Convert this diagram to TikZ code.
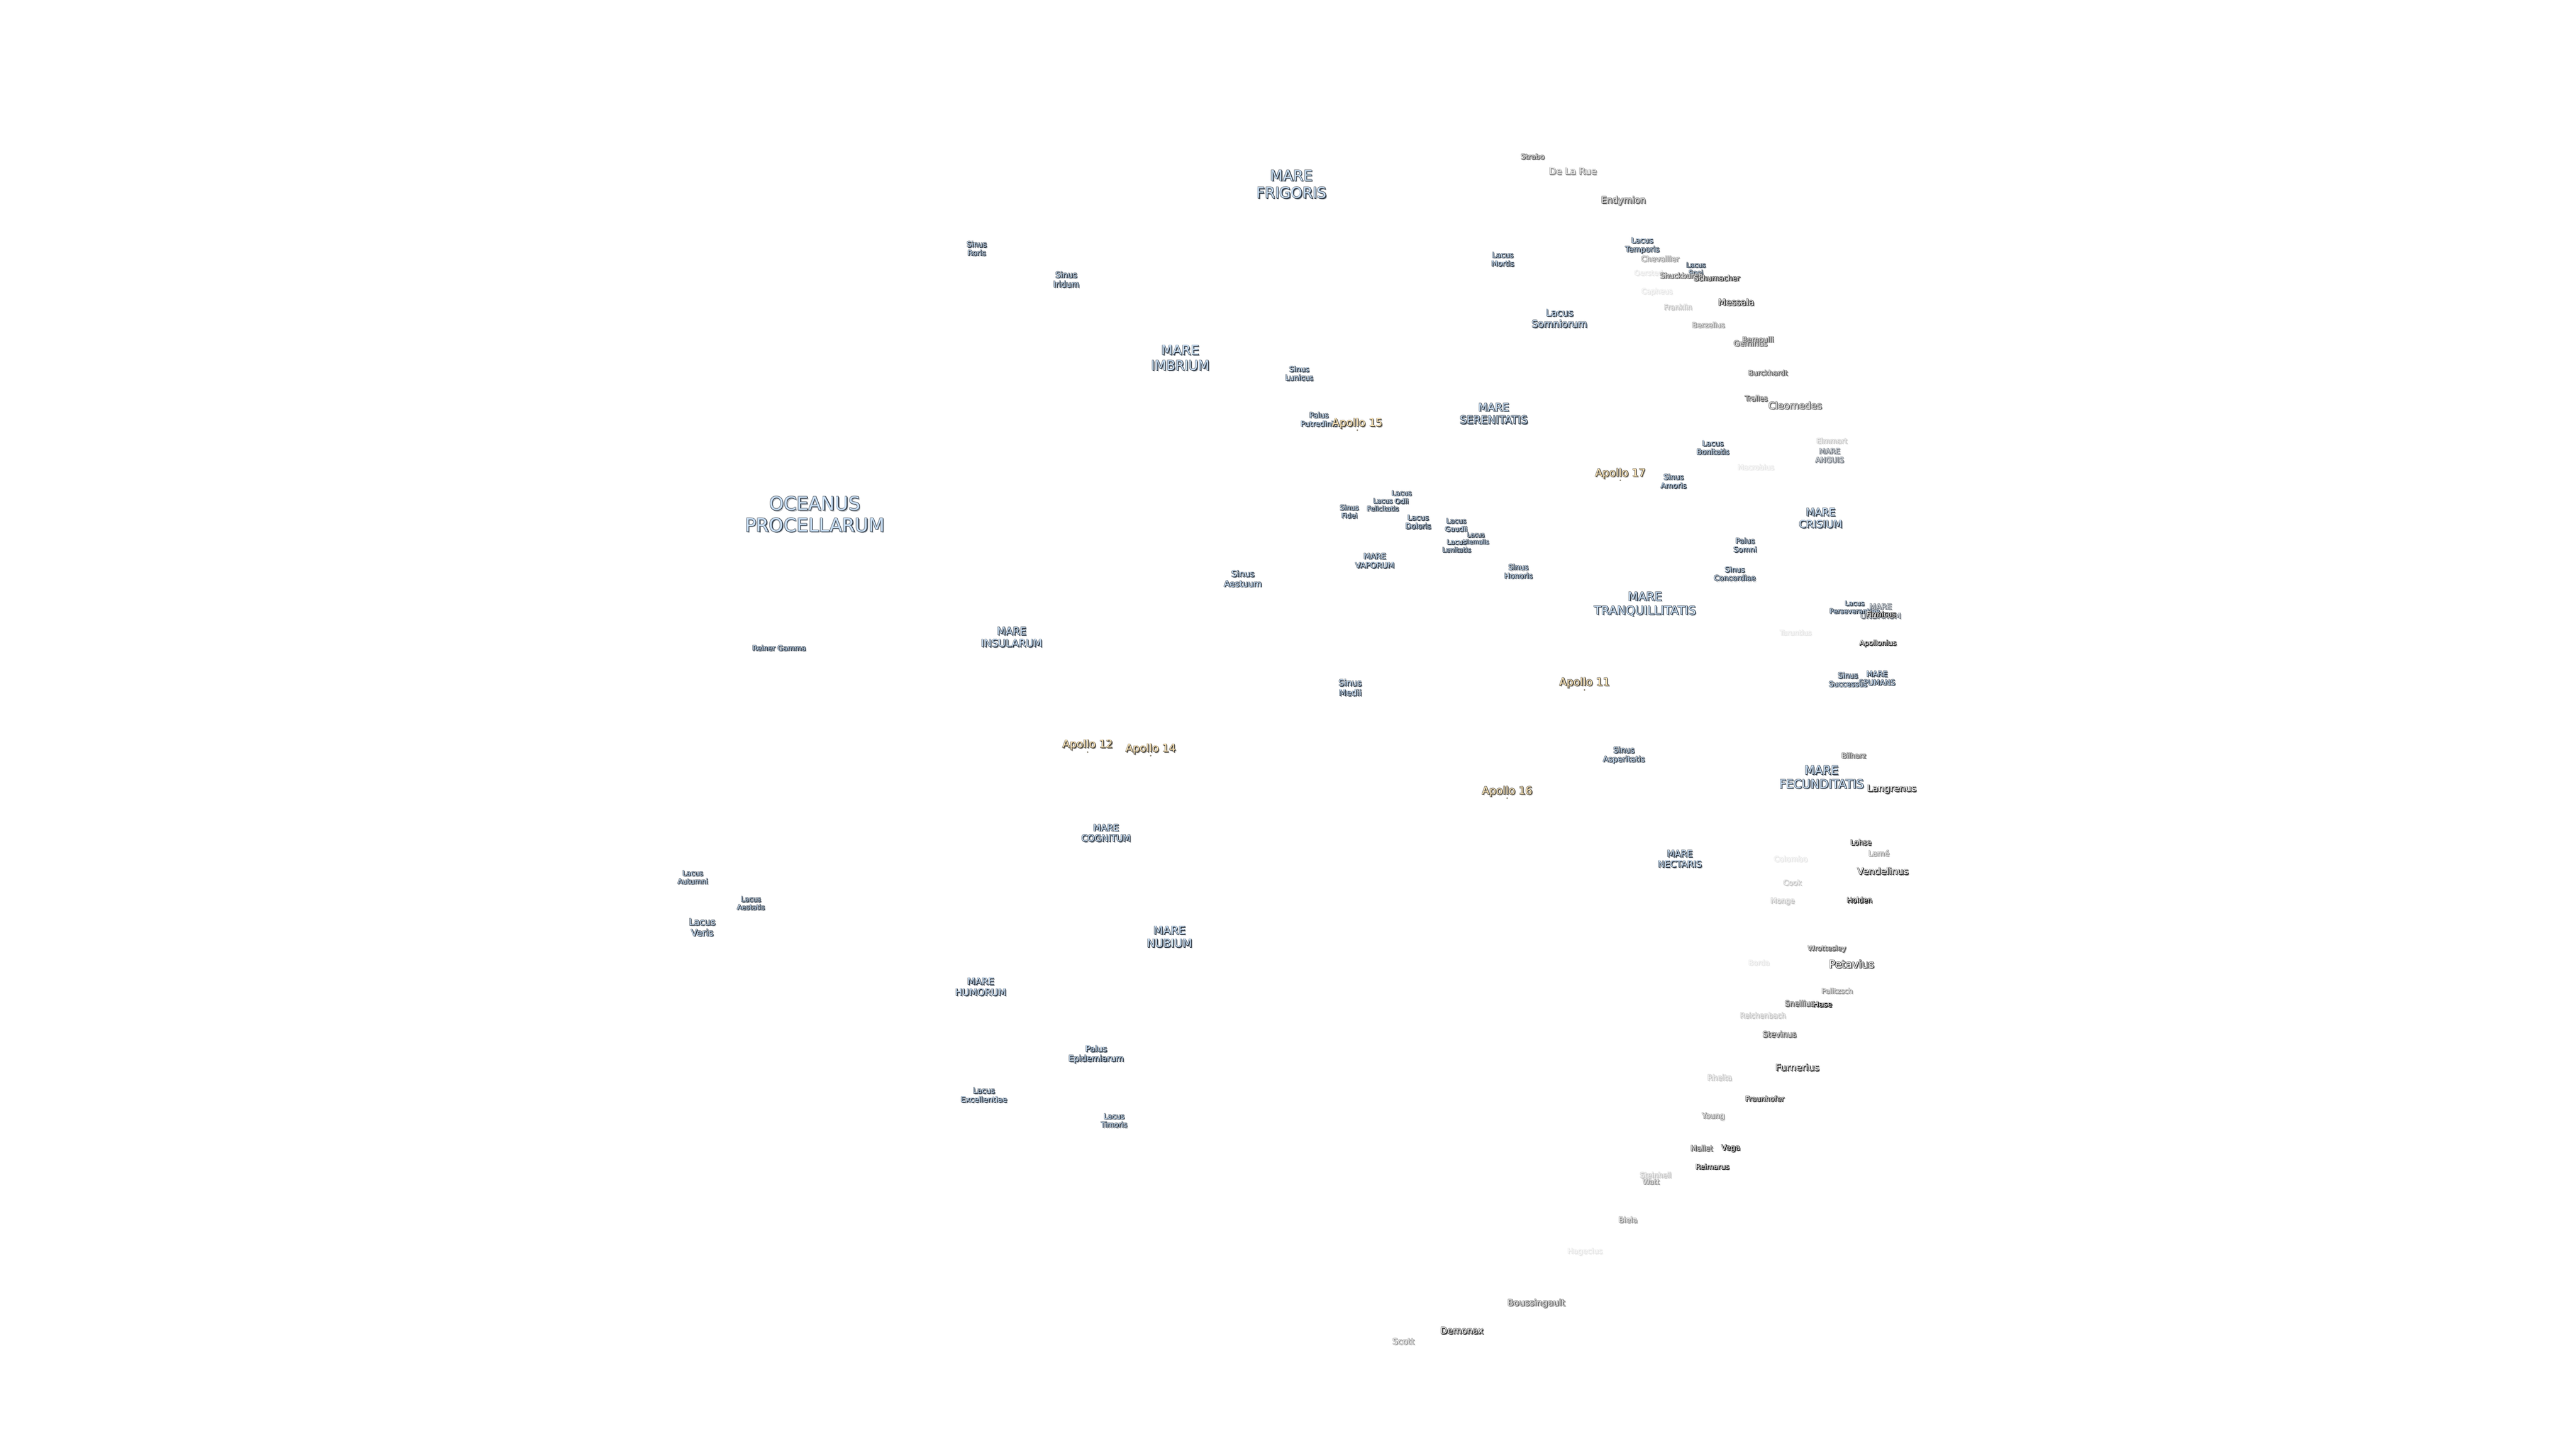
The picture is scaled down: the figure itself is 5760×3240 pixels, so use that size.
\documentclass[tikz,border=0pt]{standalone}
\usepackage{fontspec}
\setmainfont{DejaVu Sans}
\definecolor{marefill}{HTML}{C9DFF5}
\definecolor{marerim}{HTML}{323C48}
\definecolor{dimmarefill}{HTML}{D5DAE0}
\definecolor{dimmarerim}{HTML}{6E747C}
\definecolor{sitefill}{HTML}{FBE3B4}
\definecolor{siterim}{HTML}{4A4740}
\definecolor{craterfullfill}{HTML}{FFFFFF}
\definecolor{craterfullrim}{HTML}{141414}
\definecolor{craterhighfill}{HTML}{F4F4F4}
\definecolor{craterhighrim}{HTML}{333333}
\definecolor{cratermidfill}{HTML}{E6E6E6}
\definecolor{cratermidrim}{HTML}{5E5E5E}
\definecolor{craterlowfill}{HTML}{EDEDED}
\definecolor{craterlowrim}{HTML}{929292}
\definecolor{craterpalefill}{HTML}{F5F5F5}
\definecolor{craterpalerim}{HTML}{C4C4C4}
\definecolor{craterfaintfill}{HTML}{FBFBFB}
\definecolor{craterfaintrim}{HTML}{E6E6E6}
\newcommand{\moonfont}[1]{\pgfmathsetmacro\moonlead{1.164*#1}\fontsize{#1}{\moonlead}\selectfont}
\tikzset{moontext/.style={font=\moonfont{#1},align=center,inner sep=0pt}}
% kind, size, position, name, text
\newcommand{\moonlabel}[5]{%
	\node[moontext=#2,text=#1rim!35!white,shift={(3,3)}] at (#3) {#5};
	\node[moontext=#2,text=#1rim!60!white,shift={(-1,-0.8)}] at (#3) {#5};
	\node[moontext=#2,text=#1rim!60!white,shift={(0.9,-0.8)}] at (#3) {#5};
	\node[moontext=#2,text=#1rim!60!white,shift={(-1,0.9)}] at (#3) {#5};
	\node[moontext=#2,text=#1rim,shift={(1.8,1.8)}] at (#3) {#5};
	\node[moontext=#2,text=#1rim,shift={(1.2,0.5)}] at (#3) {#5};
	\node[moontext=#2,text=#1rim,shift={(0.5,1.2)}] at (#3) {#5};
	\node[moontext=#2,text=#1fill] (#4) at (#3) {#5};
}
\begin{document}
\begin{tikzpicture}[x=1pt,y=-1pt,sitedot/.style={circle,inner sep=0pt,minimum size=3.5pt,fill=siterim!70!sitefill}]
	\useasboundingbox (0,0) rectangle (5760,3240);
	% maria
	\moonlabel{mare}{41.5}{1822,1150}{oceanusProcellarum}{OCEANUS\\PROCELLARUM}
	\moonlabel{mare}{33}{2888,412}{mareFrigoris}{MARE\\FRIGORIS}
	\moonlabel{mare}{29.5}{2639,800}{mareImbrium}{MARE\\IMBRIUM}
	\moonlabel{mare}{24}{3340,925}{mareSerenitatis}{MARE\\SERENITATIS}
	\moonlabel{mare}{26.5}{3678,1351}{mareTranquillitatis}{MARE\\TRANQUILLITATIS}
	\moonlabel{mare}{23}{4071,1159}{mareCrisium}{MARE\\CRISIUM}
	\moonlabel{mare}{26.5}{4073,1738}{mareFecunditatis}{MARE\\FECUNDITATIS}
	\moonlabel{mare}{20}{3756,1921}{mareNectaris}{MARE\\NECTARIS}
	\moonlabel{mare}{17.5}{3074,1254}{mareVaporum}{MARE\\VAPORUM}
	\moonlabel{mare}{23}{2262,1425}{mareInsularum}{MARE\\INSULARUM}
	\moonlabel{mare}{20}{2473,1863}{mareCognitum}{MARE\\COGNITUM}
	\moonlabel{mare}{25}{2615,2095}{mareNubium}{MARE\\NUBIUM}
	\moonlabel{mare}{21}{2193,2207}{mareHumorum}{MARE\\HUMORUM}
	\moonlabel{dimmare}{16.5}{4091,1019}{mareAnguis}{MARE\\ANGUIS}
	\moonlabel{dimmare}{17.5}{4205,1367}{mareUndarum}{MARE\\UNDARUM}
	\moonlabel{mare}{16.5}{4197,1517}{mareSpumans}{MARE\\SPUMANS}
	% lacus, sinus, palus
	\moonlabel{mare}{16.5}{2184,556}{sinusRoris}{Sinus\\Roris}
	\moonlabel{mare}{18}{2384,625}{sinusIridum}{Sinus\\Iridum}
	\moonlabel{mare}{16.5}{2905,835}{sinusLunicus}{Sinus\\Lunicus}
	\moonlabel{mare}{16.5}{2949,938}{palusPutredinis}{Palus\\Putredinis}
	\moonlabel{mare}{16.5}{3360,580}{lacusMortis}{Lacus\\Mortis}
	\moonlabel{mare}{17}{3672,549}{lacusTemporis}{Lacus\\Temporis}
	\moonlabel{mare}{15}{3792,603}{lacusSpei}{Lacus\\Spei}
	\moonlabel{mare}{21.5}{3487,712}{lacusSomniorum}{Lacus\\Somniorum}
	\moonlabel{mare}{16.5}{3830,1001}{lacusBonitatis}{Lacus\\Bonitatis}
	\moonlabel{mare}{16.5}{3742,1076}{sinusAmoris}{Sinus\\Amoris}
	\moonlabel{mare}{16.5}{3902,1219}{palusSomni}{Palus\\Somni}
	\moonlabel{mare}{16.5}{3879,1283}{sinusConcordiae}{Sinus\\Concordiae}
	\moonlabel{mare}{15}{4147,1358}{lacusPerseverantiae}{Lacus\\Perseverantiae}
	\moonlabel{mare}{16.5}{4132,1520}{sinusSuccessus}{Sinus\\Successus}
	\moonlabel{mare}{15.5}{3017,1144}{sinusFidei}{Sinus\\Fidei}
	\moonlabel{mare}{15.5}{3134,1112}{lacusOdii}{Lacus\\Odii}
	\moonlabel{mare}{15}{3092,1129}{lacusFelicitatis}{Lacus\\Felicitatis}
	\moonlabel{mare}{16.5}{3171,1167}{lacusDoloris}{Lacus\\Doloris}
	\moonlabel{mare}{15.5}{3256,1174}{lacusGaudii}{Lacus\\Gaudii}
	\moonlabel{mare}{13.5}{3300,1204}{lacusHiemalis}{Lacus\\Hiemalis}
	\moonlabel{mare}{15}{3257,1221}{lacusLenitatis}{Lacus\\Lenitatis}
	\moonlabel{mare}{16.5}{3395,1278}{sinusHonoris}{Sinus\\Honoris}
	\moonlabel{mare}{19}{2779,1294}{sinusAestuum}{Sinus\\Aestuum}
	\moonlabel{mare}{19}{3019,1538}{sinusMedii}{Sinus\\Medii}
	\moonlabel{mare}{17.5}{3631,1689}{sinusAsperitatis}{Sinus\\Asperitatis}
	\moonlabel{mare}{16}{1742,1449}{reinerGamma}{Reiner Gamma}
	\moonlabel{mare}{16}{1549,1962}{lacusAutumni}{Lacus\\Autumni}
	\moonlabel{mare}{15.5}{1679,2020}{lacusAestatis}{Lacus\\Aestatis}
	\moonlabel{mare}{20.5}{1570,2074}{lacusVeris}{Lacus\\Veris}
	\moonlabel{mare}{18.5}{2451,2358}{palusEpidemiarum}{Palus\\Epidemiarum}
	\moonlabel{mare}{17}{2200,2449}{lacusExcellentiae}{Lacus\\Excellentiae}
	\moonlabel{mare}{16}{2491,2506}{lacusTimoris}{Lacus\\Timoris}
	% craters
	\moonlabel{cratermid}{16}{3427,350}{strabo}{Strabo}
	\moonlabel{craterlow}{21}{3517,383}{deLaRue}{De La Rue}
	\moonlabel{cratermid}{20}{3630,449}{endymion}{Endymion}
	\moonlabel{craterlow}{17}{3712,579}{chevallier}{Chevallier}
	\moonlabel{craterfaint}{16}{3686,610}{oersted}{Oersted}
	\moonlabel{cratermid}{16}{3760,618}{shuckburgh}{Shuckburgh}
	\moonlabel{craterhigh}{16.5}{3839,622}{schumacher}{Schumacher}
	\moonlabel{craterfaint}{16}{3705,653}{capheus}{Capheus}
	\moonlabel{craterpale}{16}{3752,687}{franklin}{Franklin}
	\moonlabel{craterhigh}{20}{3882,676}{messala}{Messala}
	\moonlabel{craterlow}{16}{3820,727}{berzelius}{Berzelius}
	\moonlabel{cratermid}{17}{3914,768}{geminus}{Geminus}
	\moonlabel{cratermid}{16}{3931,759}{bernoulli}{Bernoulli}
	\moonlabel{cratermid}{16}{3953,834}{burckhardt}{Burckhardt}
	\moonlabel{cratermid}{16}{3927,891}{tralles}{Tralles}
	\moonlabel{cratermid}{21.5}{4014,907}{cleomedes}{Cleomedes}
	\moonlabel{craterpale}{16}{4096,986}{elmmart}{Elmmart}
	\moonlabel{craterfaint}{16}{3926,1045}{macrobius}{Macrobius}
	\moonlabel{craterfull}{16}{4206,1373}{firmicus}{Firmicus}
	\moonlabel{craterfaint}{15.5}{4015,1415}{taruntius}{Taruntius}
	\moonlabel{craterhigh}{16}{4199,1439}{apollonius}{Apollonius}
	\moonlabel{cratermid}{16}{4145,1690}{bilharz}{Bilharz}
	\moonlabel{craterhigh}{21}{4230,1765}{langrenus}{Langrenus}
	\moonlabel{craterhigh}{16}{4161,1884}{lohse}{Lohse}
	\moonlabel{craterlow}{17}{4201,1908}{lame}{Lamé}
	\moonlabel{craterfaint}{17}{4004,1921}{colombo}{Colombo}
	\moonlabel{craterhigh}{21}{4210,1948}{vendelinus}{Vendelinus}
	\moonlabel{craterpale}{16.5}{4008,1974}{cook}{Cook}
	\moonlabel{craterpale}{16}{3986,2016}{monge}{Monge}
	\moonlabel{craterfull}{16}{4158,2013}{holden}{Holden}
	\moonlabel{cratermid}{16}{4085,2122}{wrottesley}{Wrottesley}
	\moonlabel{craterhigh}{24}{4140,2156}{petavius}{Petavius}
	\moonlabel{craterfaint}{16}{3933,2153}{borda}{Borda}
	\moonlabel{craterlow}{16}{4108,2216}{palitzsch}{Palitzsch}
	\moonlabel{cratermid}{17}{4024,2244}{snellius}{Snellius}
	\moonlabel{craterfull}{17}{4075,2246}{hase}{Hase}
	\moonlabel{craterpale}{16}{3942,2271}{reichenbach}{Reichenbach}
	\moonlabel{cratermid}{17.5}{3979,2313}{stevinus}{Stevinus}
	\moonlabel{craterhigh}{21}{4019,2387}{furnerius}{Furnerius}
	\moonlabel{craterpale}{17}{3845,2410}{rheita}{Rheita}
	\moonlabel{craterhigh}{16}{3946,2457}{fraunhofer}{Fraunhofer}
	\moonlabel{craterlow}{17}{3831,2497}{young}{Young}
	\moonlabel{cratermid}{16.5}{3805,2568}{mallet}{Mallet}
	\moonlabel{craterfull}{17}{3870,2568}{vega}{Vega}
	\moonlabel{craterhigh}{16}{3829,2609}{reimarus}{Reimarus}
	\moonlabel{craterpale}{16}{3702,2628}{steinheil}{Steinheil}
	\moonlabel{craterlow}{16}{3692,2643}{watt}{Watt}
	\moonlabel{craterlow}{17}{3640,2728}{biela}{Biela}
	\moonlabel{craterfaint}{17}{3544,2799}{hagecius}{Hagecius}
	\moonlabel{cratermid}{20}{3435,2915}{boussingault}{Boussingault}
	\moonlabel{craterhigh}{20}{3269,2976}{demonax}{Demonax}
	\moonlabel{craterlow}{19}{3138,3000}{scott}{Scott}
	% landing sites
	\node[sitedot] (site15) at (3035,962) {};
	\node[sitedot] (site17) at (3623,1074) {};
	\node[sitedot] (site11) at (3543,1543) {};
	\node[sitedot] (site12) at (2432,1682) {};
	\node[sitedot] (site14) at (2573,1690) {};
	\node[sitedot] (site16) at (3370,1785) {};
	\moonlabel{site}{24}{3035,947}{apollo15}{Apollo 15}
	\moonlabel{site}{24}{3623,1059}{apollo17}{Apollo 17}
	\moonlabel{site}{24}{3543,1527}{apollo11}{Apollo 11}
	\moonlabel{site}{24}{2432,1666}{apollo12}{Apollo 12}
	\moonlabel{site}{24}{2573,1675}{apollo14}{Apollo 14}
	\moonlabel{site}{24}{3370,1770}{apollo16}{Apollo 16}
\end{tikzpicture}
\end{document}
